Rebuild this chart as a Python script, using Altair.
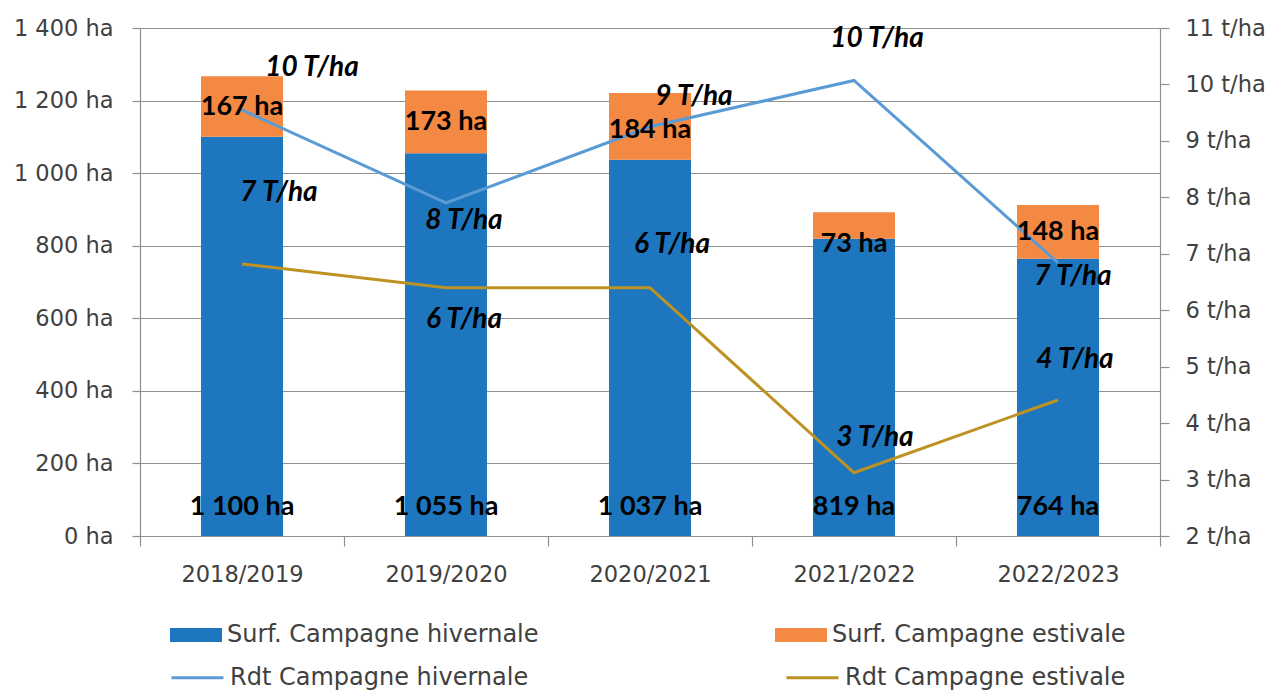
import altair as alt
import pandas as pd

# ---- data ----
campagnes = ["2018/2019", "2019/2020", "2020/2021", "2021/2022", "2022/2023"]
surf_hiver = [1100, 1055, 1037, 819, 764]
surf_este = [167, 173, 184, 73, 148]
rdt_hiver = [9.55, 7.9, 9.25, 10.07, 6.84]
rdt_este = [6.82, 6.4, 6.4, 3.12, 4.41]

SURF_SERIES = ["Surf. Campagne hivernale", "Surf. Campagne estivale"]
RDT_SERIES = ["Rdt Campagne hivernale", "Rdt Campagne estivale"]
SURF_COLORS = ["#1E76BE", "#F38942"]
RDT_COLORS = ["#5B9BD5", "#BE9222"]

# ---- label nudges (layout, pixels) ----
hiver_lbl_dx = [70, 18, 44, 23, 15]
hiver_lbl_dy = [-42, 18, -30, -41, 14]
este_lbl_dx = [37, 18, 22, 21, 17]
este_lbl_dy = [-71, 32, -43, -35, -40]
este_bar_dy = [0, 0, 4, 18, 0]

AX_FONT = "DejaVu Sans"
LBL_FONT = "Lato"
GRID = "#8f8f8f"
TXT = "#404040"
AX_SIZE = 22.5
LEG_SIZE = 24


def fmt_ha(v):
    return f"{v:,}".replace(",", " ") + " ha"


long_rows = []
for i, c in enumerate(campagnes):
    long_rows.append({"campagne": c, "serie": SURF_SERIES[0], "val": surf_hiver[i], "ord": 0})
    long_rows.append({"campagne": c, "serie": SURF_SERIES[1], "val": surf_este[i], "ord": 1})
long_df = pd.DataFrame(long_rows)

wide = pd.DataFrame({
    "campagne": campagnes,
    "hiver": surf_hiver,
    "este": surf_este,
    "rdt_h": rdt_hiver,
    "rdt_e": rdt_este,
})
wide["mid"] = wide["hiver"] + wide["este"] / 2
wide["lbl_h"] = [fmt_ha(v) for v in surf_hiver]
wide["lbl_e"] = [fmt_ha(v) for v in surf_este]
wide["lbl_rh"] = [f"{round(v)} T/ha" for v in rdt_hiver]
wide["lbl_re"] = [f"{round(v)} T/ha" for v in rdt_este]

line_rows = []
for i, c in enumerate(campagnes):
    line_rows.append({"campagne": c, "serie": RDT_SERIES[0], "rdt": rdt_hiver[i]})
    line_rows.append({"campagne": c, "serie": RDT_SERIES[1], "rdt": rdt_este[i]})
line_df = pd.DataFrame(line_rows)

x_enc = alt.X(
    "campagne:N", sort=campagnes, title=None,
    scale=alt.Scale(paddingInner=0, paddingOuter=0),
    axis=alt.Axis(labelAngle=0, labelFont=AX_FONT, labelFontSize=AX_SIZE, labelColor=TXT,
                  labelPadding=17, tickBand="extent", tickSize=10, tickColor=GRID,
                  domainColor=GRID, domainWidth=1.2, tickWidth=1.2, grid=False),
)

ha_scale = alt.Scale(domain=[0, 1400], nice=False, zero=True)
t_scale = alt.Scale(domain=[2, 11], nice=False, zero=False)

leg_common = dict(title=None, orient="none", direction="horizontal", symbolSize=2704,
                  labelOffset=5, labelFont=AX_FONT, labelFontSize=LEG_SIZE,
                  labelColor=TXT, labelLimit=500, symbolOpacity=1)

fill_enc = alt.Color(
    "serie:N", scale=alt.Scale(domain=SURF_SERIES, range=SURF_COLORS),
    legend=alt.Legend(legendX=30, legendY=581, columnPadding=236,
                      symbolType="M-1,-0.27H1V0.27H-1Z", symbolStrokeWidth=0, **leg_common),
)
stroke_enc = alt.Stroke(
    "serie:N", scale=alt.Scale(domain=RDT_SERIES, range=RDT_COLORS),
    legend=alt.Legend(legendX=30, legendY=622, columnPadding=251,
                      symbolType="stroke", symbolStrokeWidth=3, **leg_common),
)

bars = alt.Chart(long_df).mark_bar(width=82).encode(
    x=x_enc,
    y=alt.Y("val:Q", stack="zero", scale=ha_scale, title=None,
            axis=alt.Axis(orient="left", values=list(range(0, 1401, 200)),
                          labelExpr="replace(format(datum.value, ','), ',', ' ') + ' ha'",
                          labelFont=AX_FONT, labelFontSize=AX_SIZE, labelColor=TXT,
                          labelPadding=19, tickSize=8, tickColor=GRID, tickWidth=1.2,
                          domainColor=GRID, domainWidth=1.2,
                          grid=True, gridColor=GRID, gridWidth=1.2)),
    color=fill_enc,
    order=alt.Order("ord:Q"),
)

line_h = alt.Chart(line_df).transform_filter(alt.datum.serie == RDT_SERIES[0]).mark_line(strokeWidth=3).encode(
    x=x_enc,
    y=alt.Y("rdt:Q", scale=t_scale, title=None,
            axis=alt.Axis(orient="right", values=list(range(2, 12)),
                          labelExpr="datum.value + ' t/ha'",
                          labelFont=AX_FONT, labelFontSize=AX_SIZE, labelColor=TXT,
                          labelPadding=16, tickSize=9, tickColor=GRID, tickWidth=1.2,
                          domainColor=GRID, domainWidth=1.2, grid=False)),
    stroke=stroke_enc,
)
line_e = alt.Chart(line_df).transform_filter(alt.datum.serie == RDT_SERIES[1]).mark_line(strokeWidth=3).encode(
    x=x_enc,
    y=alt.Y("rdt:Q", scale=t_scale, title=None, axis=None),
    stroke=stroke_enc,
)

base_txt = dict(font=LBL_FONT, fontWeight="bold", fontSize=27, color="#000000", baseline="middle")
ital_txt = {**base_txt, "fontSize": 28, "fontStyle": "italic"}

hiver_txt = alt.Chart(wide).transform_calculate(zero="0").mark_text(dy=-29, **base_txt).encode(
    x=x_enc, y=alt.Y("zero:Q", scale=ha_scale, axis=None), text="lbl_h:N")

layers = [bars, line_h, line_e, hiver_txt]

for i, c in enumerate(campagnes):
    layers.append(
        alt.Chart(wide).transform_filter(alt.datum.campagne == c)
        .mark_text(dy=este_bar_dy[i], **base_txt)
        .encode(x=x_enc, y=alt.Y("mid:Q", scale=ha_scale, axis=None), text="lbl_e:N")
    )
for i, c in enumerate(campagnes):
    layers.append(
        alt.Chart(wide).transform_filter(alt.datum.campagne == c)
        .mark_text(dx=hiver_lbl_dx[i], dy=hiver_lbl_dy[i], **ital_txt)
        .encode(x=x_enc, y=alt.Y("rdt_h:Q", scale=t_scale, axis=None), text="lbl_rh:N")
    )
    layers.append(
        alt.Chart(wide).transform_filter(alt.datum.campagne == c)
        .mark_text(dx=este_lbl_dx[i], dy=este_lbl_dy[i], **ital_txt)
        .encode(x=x_enc, y=alt.Y("rdt_e:Q", scale=t_scale, axis=None), text="lbl_re:N")
    )

chart = alt.layer(*layers).resolve_scale(y="independent").properties(
    width=1020, height=508,
    autosize=alt.AutoSizeParams(type="none"),
    padding={"left": 132, "top": 20, "right": 105, "bottom": 156},
).configure_view(stroke=None).configure(background="white")

chart.save("out.html", embed_options={"renderer": "svg", "actions": False})
